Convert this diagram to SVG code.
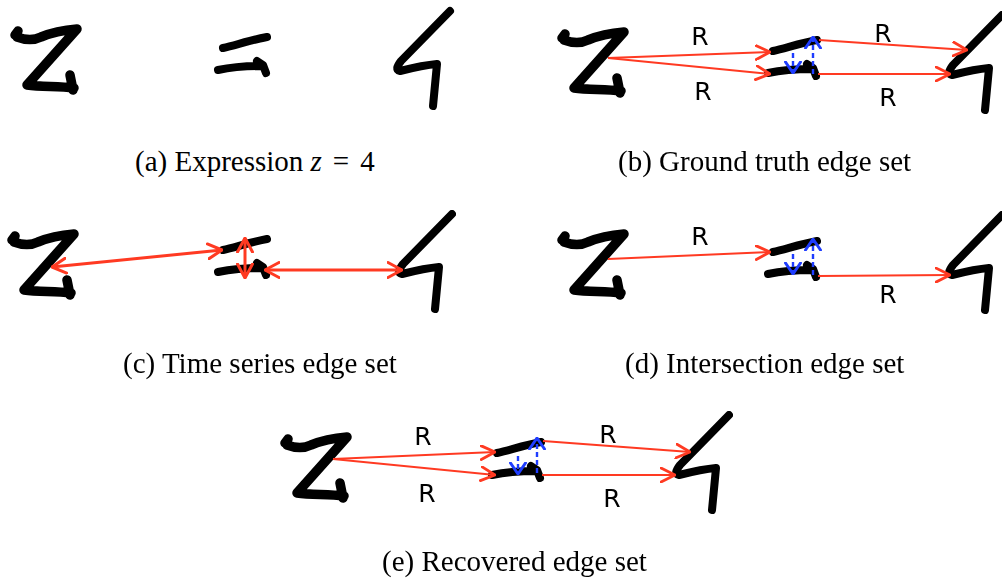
<svg xmlns="http://www.w3.org/2000/svg" xmlns:xlink="http://www.w3.org/1999/xlink" width="1002" height="583" viewBox="0 0 1002 583">
  <style>
    .ink { fill: none; stroke: #000; stroke-linecap: round; stroke-linejoin: round; }
    .zs { stroke-width: 9.5; }
    .eqs { stroke-width: 8; }
    .fs { stroke-width: 8; }
    .rel { fill: none; stroke: #ff3a22; stroke-width: 1.8; marker-end: url(#red-head); }
    .ts { fill: none; stroke: #ff3a22; stroke-width: 3; marker-start: url(#red-bold); marker-end: url(#red-bold); }
    .blue { fill: none; stroke: #1f3dff; stroke-width: 2.4; stroke-dasharray: 5 3; marker-end: url(#blue-head); }
    .lbl { font-family: "DejaVu Sans", "Liberation Sans", sans-serif; font-size: 25px; fill: #000; text-anchor: middle; }
    .cap { font-family: "Liberation Serif", "Times New Roman", serif; font-size: 29px; fill: #000; }
  </style>
  <defs>
    <filter id="soft" x="-10%" y="-10%" width="120%" height="120%">
      <feGaussianBlur stdDeviation="0.6"/>
    </filter>
    <marker id="red-head" viewBox="0 0 16 16" refX="15" refY="8" markerWidth="16" markerHeight="16" markerUnits="userSpaceOnUse" orient="auto">
      <path d="M1,1 L15,8 L1,15" fill="none" stroke="#ff3a22" stroke-width="2.8" stroke-linecap="round" stroke-linejoin="round"/>
    </marker>
    <marker id="red-bold" viewBox="0 0 16 18" refX="15" refY="9" markerWidth="16" markerHeight="18" markerUnits="userSpaceOnUse" orient="auto-start-reverse">
      <path d="M1,1.5 L15,9 L1,16.5" fill="none" stroke="#ff3a22" stroke-width="3" stroke-linecap="round" stroke-linejoin="round"/>
    </marker>
    <marker id="blue-head" viewBox="0 0 13 18" refX="12" refY="9" markerWidth="13" markerHeight="18" markerUnits="userSpaceOnUse" orient="auto">
      <path d="M1,1.5 L12,9 L1,16.5" fill="none" stroke="#1f3dff" stroke-width="3" stroke-linecap="round" stroke-linejoin="round"/>
    </marker>
    <!-- handwritten symbols, drawn at the position of the first panel -->
    <path id="glyph-z" class="ink zs" d="M15,35 L18,31 M17,37 C25,40 33,41 41,37 C53,32 65,30 77,29 L27,85 C42,87 58,86 74,88 M70,75 L73,90"/>
    <path id="glyph-eq" class="ink eqs" d="M223,48 C236,45 251,40 267,37 M218,70 C232,67 248,66 262,66 M257,61 L263,65 L266,73"/>
    <path id="glyph-four" class="ink fs" d="M450,11 L401,61 Q394,70 400,71 C412,68 425,65 437,64 L433,106"/>
  </defs>

  <rect width="1002" height="583" fill="#fff"/>

  <!-- (a) expression z = 4 -->
  <g id="panel-a" filter="url(#soft)">
    <g id="a-z"><use xlink:href="#glyph-z"/></g>
    <g id="a-eq"><use xlink:href="#glyph-eq"/></g>
    <g id="a-four"><use xlink:href="#glyph-four"/></g>
  </g>
  <text class="cap" x="135" y="171">(a) Expression <tspan font-style="italic">z</tspan><tspan dx="11">=</tspan><tspan dx="11">4</tspan></text>

  <!-- (b) ground truth edge set -->
  <g id="panel-b">
    <g filter="url(#soft)">
      <g id="b-z"><use xlink:href="#glyph-z" transform="translate(547,3)"/></g>
      <g id="b-eq"><use xlink:href="#glyph-eq" transform="translate(550,3)"/></g>
      <g id="b-four"><use xlink:href="#glyph-four" transform="translate(552,4)"/></g>
    </g>
    <g id="b-edges">
      <line class="rel" x1="608" y1="58" x2="770" y2="52"/>
      <line class="rel" x1="608" y1="58" x2="770" y2="74"/>
      <line class="rel" x1="819" y1="40" x2="967" y2="50"/>
      <line class="rel" x1="818" y1="74" x2="950" y2="74"/>
      <line class="blue" x1="793" y1="53" x2="793" y2="73"/>
      <line class="blue" x1="813" y1="74" x2="813" y2="37"/>
      <text class="lbl" x="700" y="45">R</text>
      <text class="lbl" x="703" y="100">R</text>
      <text class="lbl" x="883" y="42">R</text>
      <text class="lbl" x="888" y="106">R</text>
    </g>
  </g>
  <text class="cap" x="618" y="171">(b) Ground truth edge set</text>

  <!-- (c) time series edge set -->
  <g id="panel-c">
    <g filter="url(#soft)">
      <g id="c-z"><use xlink:href="#glyph-z" transform="translate(-3,205)"/></g>
      <g id="c-eq"><use xlink:href="#glyph-eq" transform="translate(0,202)"/></g>
      <g id="c-four"><use xlink:href="#glyph-four" transform="translate(2,203)"/></g>
    </g>
    <g id="c-edges">
      <line class="ts" x1="52" y1="267" x2="222" y2="250"/>
      <line class="ts" x1="245" y1="238" x2="245" y2="278"/>
      <line class="ts" x1="265" y1="270" x2="402" y2="270"/>
    </g>
  </g>
  <text class="cap" x="123" y="373">(c) Time series edge set</text>

  <!-- (d) intersection edge set -->
  <g id="panel-d">
    <g filter="url(#soft)">
      <g id="d-z"><use xlink:href="#glyph-z" transform="translate(547,205)"/></g>
      <g id="d-eq"><use xlink:href="#glyph-eq" transform="translate(550,204)"/></g>
      <g id="d-four"><use xlink:href="#glyph-four" transform="translate(552,204)"/></g>
    </g>
    <g id="d-edges">
      <line class="rel" x1="608" y1="259" x2="770" y2="252"/>
      <line class="rel" x1="818" y1="276" x2="950" y2="275"/>
      <line class="blue" x1="793" y1="254" x2="793" y2="274"/>
      <line class="blue" x1="813" y1="275" x2="813" y2="239"/>
      <text class="lbl" x="700" y="245">R</text>
      <text class="lbl" x="888" y="303">R</text>
    </g>
  </g>
  <text class="cap" x="625" y="373">(d) Intersection edge set</text>

  <!-- (e) recovered edge set -->
  <g id="panel-e">
    <g filter="url(#soft)">
      <g id="e-z"><use xlink:href="#glyph-z" transform="translate(270,408)"/></g>
      <g id="e-eq"><use xlink:href="#glyph-eq" transform="translate(274,405)"/></g>
      <g id="e-four"><use xlink:href="#glyph-four" transform="translate(279,404)"/></g>
    </g>
    <g id="e-edges">
      <line class="rel" x1="333" y1="459" x2="495" y2="452"/>
      <line class="rel" x1="333" y1="459" x2="495" y2="475"/>
      <line class="rel" x1="543" y1="441" x2="690" y2="452"/>
      <line class="rel" x1="542" y1="475" x2="675" y2="475"/>
      <line class="blue" x1="518" y1="456" x2="518" y2="474"/>
      <line class="blue" x1="537" y1="473" x2="537" y2="438"/>
      <text class="lbl" x="423" y="445">R</text>
      <text class="lbl" x="427" y="502">R</text>
      <text class="lbl" x="608" y="443">R</text>
      <text class="lbl" x="612" y="507">R</text>
    </g>
  </g>
  <text class="cap" x="382" y="571">(e) Recovered edge set</text>
</svg>
